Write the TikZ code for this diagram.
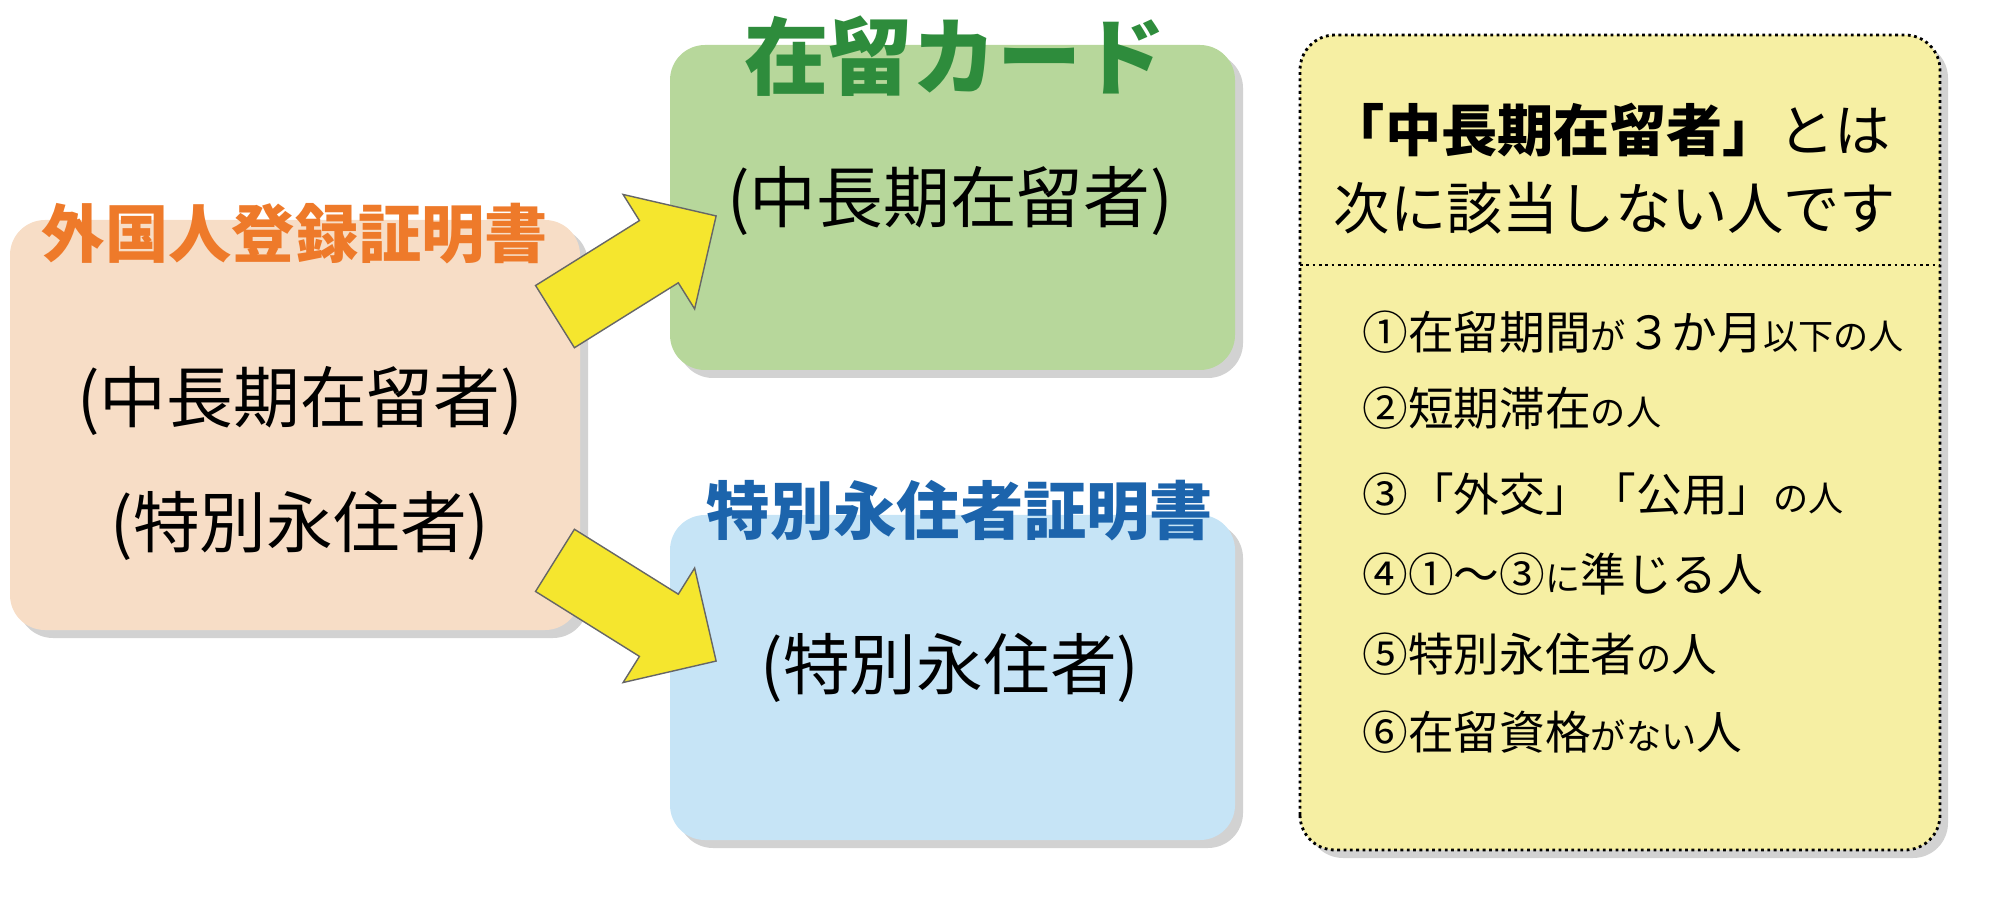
\documentclass[tikz,border=0pt]{standalone}
\usepackage{fontspec}
\setmainfont{Noto Sans CJK JP}
\usetikzlibrary{shapes.arrows}
\usetikzlibrary{shadows}
\definecolor{peach}{HTML}{F7DDC6}
\definecolor{leaf}{HTML}{B7D79B}
\definecolor{sky}{HTML}{C6E4F6}
\definecolor{cream}{HTML}{F6EFA3}
\definecolor{orangetitle}{HTML}{EE7A2A}
\definecolor{greentitle}{HTML}{2E8C3C}
\definecolor{bluetitle}{HTML}{1C64AC}
\definecolor{arrowyellow}{HTML}{F5E62E}
\tikzstyle{card}=[rounded corners=0.35cm,drop shadow={shadow xshift=0.08cm,shadow yshift=-0.08cm,fill=black!35}]
\tikzstyle{big}=[font=\fontsize{19}{22}\selectfont]
\tikzstyle{item}=[anchor=west,font=\fontsize{13}{15}\selectfont]
\tikzstyle{move}=[single arrow,draw=black!60,fill=arrowyellow,minimum height=1.9cm,minimum width=1.35cm,single arrow head extend=0.3cm,inner sep=0.35cm]
\newcommand{\sm}[1]{{\fontsize{10}{12}\selectfont #1}}
\begin{document}
\begin{tikzpicture}
	\useasboundingbox (0,0) rectangle (20,9.06);
	% boxes
	\fill [card,fill=peach] (0.1,2.76) rectangle (5.8,6.86);
	\fill [card,fill=leaf] (6.7,5.36) rectangle (12.35,8.61);
	\fill [card,fill=sky] (6.7,0.66) rectangle (12.35,3.91);
	\draw [card,fill=cream,densely dotted,thick] (13.0,0.56) rectangle (19.4,8.71);
	\draw [densely dotted,thick] (13.0,6.41) -- (19.4,6.41);
	% arrows
	\node [move,rotate=32] (up) at (6.2,6.3) {};
	\node [move,rotate=-32] (down) at (6.2,3.05) {};
	% titles
	\node [text=orangetitle,font=\fontsize{18}{20}\selectfont\bfseries] (alien) at (2.95,6.72) {外国人登録証明書};
	\node [text=greentitle,font=\fontsize{24}{26}\selectfont\bfseries] (zairyu) at (9.55,8.5) {在留カード};
	\node [text=bluetitle,font=\fontsize{18}{20}\selectfont\bfseries] (tokubetsu) at (9.6,3.95) {特別永住者証明書};
	% contents
	\node [big] (alienmid) at (3.0,5.05) {(中長期在留者)};
	\node [big] (alienlong) at (3.0,3.8) {(特別永住者)};
	\node [big] (zairyumid) at (9.5,7.05) {(中長期在留者)};
	\node [big] (tokulong) at (9.5,2.38) {(特別永住者)};
	% right box
	\node [font=\fontsize{16}{18}\selectfont] (defa) at (16.1,7.76) {{\bfseries 「中長期在留者」}とは};
	\node [font=\fontsize{16}{18}\selectfont] (defb) at (16.15,6.98) {次に該当しない人です};
	\node [item] (i1) at (13.5,5.74) {①在留期間\sm{が}３か月\sm{以下の人}};
	\node [item] (i2) at (13.5,4.98) {②短期滞在\sm{の人}};
	\node [item] (i3) at (13.5,4.12) {③「外交」「公用」\sm{の人}};
	\node [item] (i4) at (13.5,3.32) {④①～③\sm{に}準じる人};
	\node [item] (i5) at (13.5,2.52) {⑤特別永住者\sm{の}人};
	\node [item] (i6) at (13.5,1.74) {⑥在留資格\sm{がない}人};
\end{tikzpicture}
\end{document}
